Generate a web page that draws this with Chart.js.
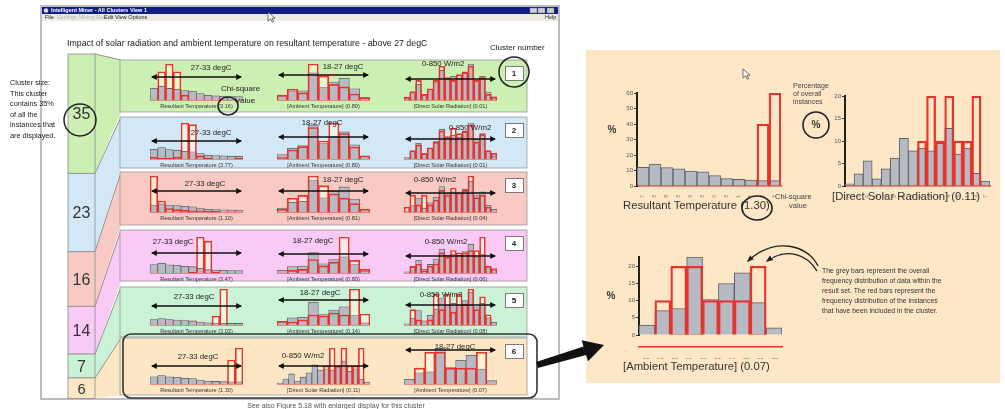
<!DOCTYPE html>
<html>
<head>
<meta charset="utf-8">
<script src="https://cdn.jsdelivr.net/npm/chart.js@4.4.0/dist/chart.umd.min.js"></script>
<style>
  body { margin: 0; width: 1005px; height: 409px; background: #fff; position: relative; overflow: hidden;
         font-family: 'Liberation Sans', Arial, sans-serif; color: #222; }
  .abs { position: absolute; }
  .t { position: absolute; white-space: nowrap; line-height: 1; z-index: 5; }
  canvas { display: block; }
  svg { position: absolute; left: 0; top: 0; }
</style>
</head>
<body>
<script>
/** data */
const clusterSizes = [35, 23, 16, 14, 7, 6];
const resultantChi = [3.16, 3.77, 1.10, 3.47, 3.03, 1.30];
const ambientChi = [0.80, 0.80, 0.81, 0.80, 0.14, 0.07];
const solarChi = [0.01, 0.01, 0.04, 0.06, 0.08, 0.11];

const resultantBins = ['27', '27.5', '28', '28.5', '29', '29.5', '30', '30.5', '31', '31.5', '32', '32.5'];
const ambientBins = ['18', '19', '20', '21', '22', '23', '24', '25', '26'];
const ambientEdges = [18, 27];
const solarBins = ['0', '53', '106', '159', '213', '266', '319', '372', '425', '478', '531', '584', '638', '691', '744', '797'];

// grey bars: whole result set (%)
const resultantOverall = [12.1, 14.2, 11.9, 11.0, 9.7, 9.1, 6.7, 4.8, 4.3, 3.9, 3.5, 3.5];
const ambientOverall = [2.9, 7.1, 7.7, 22.7, 10.3, 15.0, 18.1, 9.4, 2.1];
const solarOverall = [0.5, 2.7, 5.6, 1.6, 3.8, 6.2, 10.6, 7.8, 8.4, 7.8, 9.5, 12.8, 7.1, 8.4, 2.8, 1.1];

// red bars: one list per cluster (%)
const resultantCluster = [
  [0, 29, 37, 29, 5, 0, 0, 0, 0, 0, 0, 0],
  [2, 1, 1, 2, 45, 43, 4, 1, 0, 0, 0, 1],
  [62, 19, 6, 4, 3, 2, 2, 1, 1, 0, 0, 0],
  [0, 0, 0, 0, 0, 1, 52, 46, 1, 0, 0, 0],
  [0, 0, 0, 0, 0, 0, 0, 0, 20, 80, 0, 0],
  [0, 0, 0, 0, 0, 0, 0, 0, 0, 0, 40, 60],
];
const ambientCluster = [
  [4, 9, 6, 30, 20, 13, 11, 5, 2],
  [1, 6, 9, 21, 12, 24, 17, 8, 2],
  [2, 10, 12, 26, 19, 13, 10, 6, 2],
  [0, 3, 4, 15, 8, 12, 40, 14, 4],
  [4, 3, 5, 10, 9, 12, 10, 36, 11],
  [0, 10, 20, 20, 10, 10, 10, 20, 0],
];
const solarCluster = [
  [1, 3, 7, 2, 4, 7, 12, 8, 7, 9, 10, 12, 7, 8, 2, 1],
  [0, 3, 5, 2, 4, 6, 10, 8, 11, 9, 10, 12, 6, 9, 3, 2],
  [2, 7, 3, 7, 3, 5, 9, 7, 10, 8, 9, 15, 6, 7, 2, 0],
  [0, 3, 4, 1, 3, 4, 9, 7, 10, 9, 9, 10, 10, 16, 3, 2],
  [0, 6, 2, 0, 2, 12, 6, 12, 5, 12, 8, 14, 6, 11, 4, 0],
  [0, 0, 0, 0, 0, 0, 0, 0, 10, 20, 10, 20, 10, 10, 20, 0],
];

const attrs = {
  resultant: { name: 'Resultant Temperature', range: '27-33 degC', bins: resultantBins, overall: resultantOverall, cluster: resultantCluster, chi: resultantChi },
  ambient: { name: '[Ambient Temperature]', range: '18-27 degC', bins: ambientBins, overall: ambientOverall, cluster: ambientCluster, chi: ambientChi },
  solar: { name: '[Direct Solar Radiation]', range: '0-850 W/m2', bins: solarBins, overall: solarOverall, cluster: solarCluster, chi: solarChi },
};

/** layout */
const RED = '#e8332c';
const rowTops = [60, 117, 172, 230, 287, 338];
const rowBots = [112, 168, 225, 281, 337, 395];
const rowBase = [100, 159, 212, 273, 325, 384];
const rowColors = ['#ccefb4', '#d3e8f7', '#f8cac3', '#f8caf5', '#c9f2d7', '#fde6c4'];
const slotX = [150, 277, 404];
const slotW = 93;
const rangePos = [
  [[211, 68], [343, 67], [443, 64]],
  [[211, 133], [322, 123], [470, 128]],
  [[205, 184], [343, 180], [435, 180]],
  [[173, 242], [313, 241], [446, 242]],
  [[194, 297], [320, 293], [441, 295]],
  [[198, 357], [303, 356], [455, 347]],
];
const arrowYs = [[77, 75, 79], [141, 137, 139], [191, 191, 193], [253, 254, 256], [306, 300, 305], [366, 366, 350]];

Chart.defaults.font.family = "'Liberation Sans', Arial, sans-serif";

function label(str, x, y, size, o = {}) {
  const d = document.createElement('div');
  d.className = 't';
  d.textContent = str;
  d.style.left = x + 'px';
  d.style.top = y + 'px';
  d.style.fontSize = size + 'px';
  d.style.transform = `translate(${o.left ? '0' : '-50%'}, -50%)`;
  if (o.color) d.style.color = o.color;
  if (o.bold) d.style.fontWeight = 'bold';
  document.body.appendChild(d);
}

function canvasAt(x, y, w, h) {
  const wrap = document.createElement('div');
  wrap.className = 'abs';
  Object.assign(wrap.style, { left: x + 'px', top: y + 'px', width: w + 'px', height: h + 'px', zIndex: 3 });
  const cv = document.createElement('canvas');
  cv.width = w;
  cv.height = h;
  wrap.appendChild(cv);
  document.body.appendChild(wrap);
  return cv;
}

function addSvg(inner, z) {
  const ns = 'http://www.w3.org/2000/svg';
  const s = document.createElementNS(ns, 'svg');
  s.setAttribute('width', 1005);
  s.setAttribute('height', 409);
  s.style.zIndex = z;
  s.innerHTML = inner;
  document.body.appendChild(s);
}

const baseOptions = {
  responsive: false,
  animation: false,
  events: [],
  plugins: { legend: { display: false }, tooltip: { enabled: false } },
};

function barSets(overall, cluster, fill, redW, greyW) {
  return [
    { data: cluster, backgroundColor: 'rgba(0,0,0,0)', borderColor: RED, borderWidth: redW, grouped: false, barPercentage: 1, categoryPercentage: 1 },
    { data: overall, backgroundColor: '#b7bac3', borderColor: '#5e5f66', borderWidth: greyW, grouped: false, barPercentage: 1, categoryPercentage: 1 },
    { data: cluster, backgroundColor: fill, borderWidth: 0, grouped: false, barPercentage: 1, categoryPercentage: 1 },
  ];
}

/** small histogram inside a cluster row */
function miniHistogram(a, k, x, base) {
  const h = 38;
  const cv = canvasAt(x, base - h + 1, slotW, h);
  const cl = a.cluster[k];
  new Chart(cv, {
    type: 'bar',
    data: { labels: a.bins, datasets: barSets(a.overall, cl, 'rgba(255,252,225,0.6)', 1, 0.8) },
    options: {
      ...baseOptions,
      layout: { padding: { top: 1, left: 0, right: 0, bottom: 0 } },
      scales: {
        x: { grid: { display: false, drawTicks: false }, ticks: { display: false },
             border: { color: RED, width: 1.5 }, afterFit: (s) => { s.height = 1; } },
        y: { display: false, min: 0, max: Math.max(...a.overall, ...cl) },
      },
    },
  });
}

/** enlarged histogram on the right panel (cluster 6) */
function bigHistogram(a, area, yStep, edges) {
  const yW = 30, xH = 12, padT = 6, padR = 4;
  const cv = canvasAt(area[0] - yW, area[1] - padT, area[2] - area[0] + yW + padR, area[3] - area[1] + padT + xH);
  const cl = a.cluster[5];
  const scales = {
    x: {
      display: !edges,
      grid: { display: false },
      border: { color: RED, width: 1.5 },
      ticks: { font: { size: 4.5 }, color: '#777', minRotation: 90, maxRotation: 90, autoSkip: false, padding: 1 },
      afterFit: (s) => { s.height = xH; },
    },
    y: {
      min: 0,
      max: Math.max(...a.overall, ...cl),
      border: { color: '#222', width: 2 },
      grid: { drawOnChartArea: false, color: '#333', tickLength: 3 },
      ticks: { stepSize: yStep, includeBounds: false, font: { size: 6 }, color: '#555', padding: 1 },
      afterFit: (s) => { s.width = yW; },
    },
  };
  if (edges) {
    scales.x2 = {
      type: 'linear', axis: 'x', position: 'bottom', min: edges[0], max: edges[1],
      grid: { display: false }, border: { color: RED, width: 1.5 },
      ticks: { stepSize: 1, font: { size: 6 }, color: '#666', padding: 2 },
      afterFit: (s) => { s.height = xH; },
    };
  }
  new Chart(cv, {
    type: 'bar',
    data: { labels: a.bins, datasets: barSets(a.overall, cl, 'rgba(0,0,0,0)', 1.6, 1) },
    options: { ...baseOptions, layout: { padding: { top: padT, right: padR, left: 0, bottom: 0 } }, scales },
  });
}

/** background: window, cluster column, fans and row bands */
const colTop = 54, pxPerPct = 3.41;
const colYs = [colTop];
clusterSizes.forEach((s) => colYs.push(colYs[colYs.length - 1] + s * pxPerPct));

let bg = '';
bg += '<rect x="586" y="50" width="414" height="333" fill="#fde7c6"/>';
bg += '<rect x="41" y="6" width="518" height="393" fill="#fff" stroke="#a8a8a8" stroke-width="1.5"/>';
bg += '<rect x="42" y="7" width="516" height="7" fill="#101c86"/>';
bg += '<rect x="42" y="14" width="516" height="7" fill="#eceae3"/>';
bg += '<circle cx="46" cy="10.5" r="2.3" fill="#ddd"/>';
[530, 538, 547].forEach((bx) => { bg += `<rect x="${bx}" y="8" width="7" height="5" fill="#cfcfcf" stroke="#777" stroke-width="0.5"/>`; });
clusterSizes.forEach((s, i) => {
  const c = rowColors[i];
  bg += `<polygon points="95,${colYs[i]} 121,${rowTops[i]} 121,${rowBots[i]} 95,${colYs[i + 1]}" fill="${c}"/>`;
  bg += `<line x1="95" y1="${colYs[i]}" x2="121" y2="${rowTops[i]}" stroke="#7a7a7a" stroke-width="0.8"/>`;
  bg += `<rect x="120" y="${rowTops[i]}" width="407" height="${rowBots[i] - rowTops[i]}" fill="${c}" stroke="#8c8c8c" stroke-width="0.7"/>`;
  bg += `<rect x="68" y="${colYs[i]}" width="27" height="${colYs[i + 1] - colYs[i]}" fill="${c}" stroke="#8c8c8c" stroke-width="0.8"/>`;
});
addSvg(bg, 1);

/** charts */
const order = [];
clusterSizes.forEach((s, k) => {
  const others = ['ambient', 'solar'].sort((p, q) => attrs[q].chi[k] - attrs[p].chi[k]);
  order.push(['resultant', ...others]);
  order[k].forEach((key, slot) => miniHistogram(attrs[key], k, slotX[slot], rowBase[k]));
});

bigHistogram(attrs.resultant, [637, 93, 781, 186], 10, null);
bigHistogram(attrs.solar, [845, 96, 990, 186], 5, null);
bigHistogram(attrs.ambient, [639, 257, 782, 347], 5, ambientEdges);

/** overlay: arrows, circles, frame of cluster 6 */
let ov = '<defs>' +
  '<marker id="ah" viewBox="0 0 10 10" refX="8" refY="5" markerWidth="6" markerHeight="6" markerUnits="userSpaceOnUse" orient="auto-start-reverse"><path d="M0,0 L10,5 L0,10 z" fill="#111"/></marker>' +
  '<marker id="ac" viewBox="0 0 10 10" refX="8" refY="5" markerWidth="7" markerHeight="7" markerUnits="userSpaceOnUse" orient="auto"><path d="M0,1 L10,5 L0,9 z" fill="#222"/></marker>' +
  '</defs>';
order.forEach((keys, k) => {
  keys.forEach((key, slot) => {
    const y = arrowYs[k][slot];
    ov += `<line x1="${slotX[slot] + 2}" y1="${y}" x2="${slotX[slot] + slotW - 2}" y2="${y}" stroke="#111" stroke-width="1.7" marker-start="url(#ah)" marker-end="url(#ah)"/>`;
  });
});
ov += '<circle cx="80" cy="120" r="16" fill="none" stroke="#222" stroke-width="1.5"/>';
ov += '<circle cx="514" cy="72" r="15" fill="none" stroke="#222" stroke-width="1.5"/>';
ov += '<ellipse cx="228" cy="106" rx="10" ry="9" fill="none" stroke="#222" stroke-width="1.5"/>';
ov += '<rect x="123" y="334" width="414" height="64" rx="8" fill="none" stroke="#333" stroke-width="1.6"/>';
ov += '<ellipse cx="757" cy="208" rx="15" ry="12" fill="none" stroke="#222" stroke-width="1.6"/>';
ov += '<circle cx="816" cy="125" r="13" fill="none" stroke="#222" stroke-width="1.6"/>';
ov += '<path d="M818 266 C808 245, 775 236, 748 261" fill="none" stroke="#222" stroke-width="1.3" marker-end="url(#ac)"/>';
ov += '<path d="M817 271 C806 253, 786 248, 767 261" fill="none" stroke="#222" stroke-width="1.3" marker-end="url(#ac)"/>';
// big black arrow from cluster 6 to the enlarged view
{
  const sx = 537, sy = 365, tx = 604, ty = 345;
  const len = Math.hypot(tx - sx, ty - sy), ux = (tx - sx) / len, uy = (ty - sy) / len, nx = -uy, ny = ux;
  const bx = tx - ux * 20, by = ty - uy * 20;
  const p = (x, y) => `${x.toFixed(1)},${y.toFixed(1)}`;
  ov += `<polygon points="${p(sx + nx * 3, sy + ny * 3)} ${p(bx + nx * 4.5, by + ny * 4.5)} ${p(bx + nx * 11, by + ny * 11)} ${p(tx, ty)} ${p(bx - nx * 11, by - ny * 11)} ${p(bx - nx * 4.5, by - ny * 4.5)} ${p(sx - nx * 3, sy - ny * 3)}" fill="#111"/>`;
}
// mouse pointers
[[743, 69], [268, 12]].forEach(([cx, cy]) => {
  ov += `<path transform="translate(${cx},${cy})" d="M0 0 L0 9 L2.5 6.8 L4.3 10.2 L5.6 9.6 L3.9 6.3 L7 6.2 Z" fill="#fff" stroke="#333" stroke-width="0.7"/>`;
});
addSvg(ov, 4);

/** texts */
label('Intelligent Miner - All Clusters View 1', 51, 10.5, 5.5, { left: true, color: '#fff', bold: true });
label('File', 45, 17.5, 5.5, { left: true });
label('Settings   Mining   Run', 57, 17.5, 5.5, { left: true, color: '#b5b5b5' });
label('Edit   View   Options', 104, 17.5, 5.5, { left: true });
label('Help', 545, 17.5, 5.5, { left: true });

label('Impact of solar radiation and ambient temperature on resultant temperature - above 27 degC', 67, 43, 8.8, { left: true });
label('Cluster number', 490, 48, 8, { left: true });
['Cluster size:', 'This cluster', `contains ${clusterSizes[0]}%`, 'of all the', 'instances that', 'are displayed.']
  .forEach((s, i) => label(s, 10, 83 + i * 10.6, 7.3, { left: true }));

clusterSizes.forEach((s, i) => {
  const h = colYs[i + 1] - colYs[i];
  label(String(s), 81.5, (colYs[i] + colYs[i + 1]) / 2 + 0.5, Math.min(16, h * 0.72), { color: '#333' });
  const box = document.createElement('div');
  box.className = 'abs';
  Object.assign(box.style, { left: '505px', top: rowTops[i] + 6 + 'px', width: '17px', height: '13px', background: '#fff',
    border: '1px solid #7a7a7a', zIndex: 2 });
  document.body.appendChild(box);
  label(String(i + 1), 514, rowTops[i] + 13.5, 8, { bold: true });
});

order.forEach((keys, k) => {
  keys.forEach((key, slot) => {
    const a = attrs[key];
    label(a.range, rangePos[k][slot][0], rangePos[k][slot][1], 7.8);
    label(`${a.name} (${a.chi[k].toFixed(2)})`, slotX[slot] + slotW / 2, rowBase[k] + 6.5, 5.6, { color: '#333' });
  });
});
label('Chi-square', 221, 89, 8, { left: true });
label('value', 236, 101, 8, { left: true });
label('See also Figure 5.18 with enlarged display for this cluster', 336, 405, 7, { color: '#555' });

// right panel
label('%', 612, 130, 10, { bold: true, color: '#333' });
label('%', 611, 296, 10, { bold: true, color: '#333' });
label('%', 816, 125, 10, { bold: true, color: '#333' });
label(`${attrs.resultant.name} (${attrs.resultant.chi[5].toFixed(2)})`, 623, 206, 11.3, { left: true, color: '#333' });
label(`${attrs.solar.name} (${attrs.solar.chi[5].toFixed(2)})`, 832, 197, 11.3, { left: true, color: '#333' });
label(`${attrs.ambient.name} (${attrs.ambient.chi[5].toFixed(2)})`, 623, 367, 11.3, { left: true, color: '#333' });
label('Chi-square', 775, 197, 7.5, { left: true, color: '#444' });
label('value', 789, 206, 7.5, { left: true, color: '#444' });
['Percentage', 'of overall', 'instances'].forEach((s, i) => label(s, 793, 85 + i * 8, 7, { left: true, color: '#444' }));
['The grey bars represent the overall', 'frequency distribution of data within the', 'result set. The red bars represent the',
 'frequency distribution of the instances', 'that have been included in the cluster.']
  .forEach((s, i) => label(s, 822, 271 + i * 10, 6.9, { left: true, color: '#333' }));
</script>
</body>
</html>
